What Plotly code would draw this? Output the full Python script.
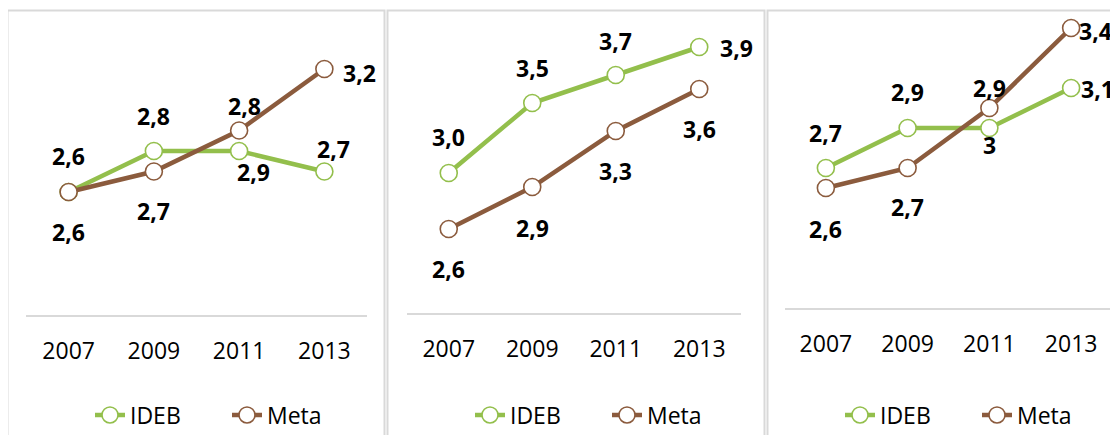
import plotly.graph_objects as go

# ---- data ----
years = ["2007", "2009", "2011", "2013"]

ideb_1 = [2.6, 2.8, 2.8, 2.7]
meta_1 = [2.6, 2.7, 2.9, 3.2]
ideb_1_labels = ["2,6", "2,8", "2,8", "2,7"]
meta_1_labels = ["2,6", "2,7", "2,9", "3,2"]

ideb_2 = [3.0, 3.5, 3.7, 3.9]
meta_2 = [2.6, 2.9, 3.3, 3.6]
ideb_2_labels = ["3,0", "3,5", "3,7", "3,9"]
meta_2_labels = ["2,6", "2,9", "3,3", "3,6"]

ideb_3 = [2.7, 2.9, 2.9, 3.1]
meta_3 = [2.6, 2.7, 3.0, 3.4]
ideb_3_labels = ["2,7", "2,9", "2,9", "3,1"]
meta_3_labels = ["2,6", "2,7", "3", "3,4"]

series_names = ["IDEB", "Meta"]

# ---- style ----
OFF = 8  # page body margin in the browser
W, H = 1118 - OFF, 435 - OFF
GREEN = "#93BF4C"
BROWN = "#8B5B3D"
FONT = "Open Sans"

# label pixel offsets (dx, dy down-positive) per panel / series / point
ideb_offsets = [
    [(0, -36), (0, -35), (5, -45), (9, -23)],
    [(0, -36), (0, -35), (0, -34), (37, 1)],
    [(0, -35), (0, -36), (0, -40), (26, 1)],
]
meta_offsets = [
    [(0, 40), (0, 39), (14, 41), (35, 4)],
    [(0, 40), (0, 41), (0, 40), (0, 40)],
    [(0, 41), (0, 39), (0, 37), (24, 3)],
]

# plot areas in reference pixels: x0, x1, ytop, ybottom and y ranges
areas = [
    (26, 367, 28, 315, [2.0, 3.4]),
    (407, 741, 33, 313, [2.0, 4.0]),
    (785, 1112, 28, 308, [2.0, 3.4]),
]
frames = [(7.5, 384.5), (387.5, 764.5), (767.5, 1130)]
legend_x = [90, 470, 840]


def px(v):
    return (v - OFF) / W


def py(v):
    return 1 - (v - OFF) / H


panels = [
    (ideb_1, meta_1, ideb_1_labels, meta_1_labels),
    (ideb_2, meta_2, ideb_2_labels, meta_2_labels),
    (ideb_3, meta_3, ideb_3_labels, meta_3_labels),
]

fig = go.Figure()
annotations = []
shapes = []
layout = {}

for i, (ideb, meta, il, ml) in enumerate(panels):
    sfx = "" if i == 0 else str(i + 1)
    xa, ya = "x" + sfx, "y" + sfx
    leg = "legend" + sfx
    x0, x1, yt, yb, yr = areas[i]
    for name, vals, color in ((series_names[0], ideb, GREEN), (series_names[1], meta, BROWN)):
        fig.add_trace(go.Scatter(
            x=years, y=vals, name=name, mode="lines+markers",
            line=dict(color=color, width=4.5),
            marker=dict(symbol="circle", size=17, color="white",
                        line=dict(color=color, width=1.6)),
            xaxis=xa, yaxis=ya, legend=leg, cliponaxis=False,
            hoverinfo="skip",
        ))
    for vals, labels, offs in ((ideb, il, ideb_offsets[i]), (meta, ml, meta_offsets[i])):
        for k in range(len(years)):
            dx, dy = offs[k]
            annotations.append(dict(
                x=k, y=vals[k], xref=xa, yref=ya, text="<b>" + labels[k] + "</b>",
                showarrow=False, xshift=dx, yshift=-dy,
                font=dict(family=FONT, size=23, color="black"),
            ))
    layout["xaxis" + sfx] = dict(
        domain=[px(x0), px(x1)], type="category", range=[-0.5, 3.5],
        showline=True, linecolor="#D9D9D9", linewidth=1.5,
        showgrid=False, zeroline=False, ticks="",
        tickfont=dict(family=FONT, size=23, color="black"),
        ticklabelstandoff=15,
        anchor=ya, fixedrange=True,
    )
    layout["yaxis" + sfx] = dict(
        domain=[py(yb), py(yt)], range=yr, visible=False,
        showgrid=False, zeroline=False, anchor=xa, fixedrange=True,
    )
    layout[leg] = dict(
        orientation="h", x=px(legend_x[i]), y=py(415),
        xanchor="left", yanchor="middle",
        font=dict(family=FONT, size=23, color="black"),
        bgcolor="rgba(0,0,0,0)", entrywidth=92,
    )
    fx0, fx1 = frames[i]
    shapes.append(dict(
        type="rect", xref="paper", yref="paper",
        x0=px(fx0), x1=px(fx1), y0=-0.05, y1=py(10.5),
        line=dict(color="#D9D9D9", width=2), fillcolor="rgba(0,0,0,0)",
        layer="below",
    ))

fig.update_layout(
    width=W, height=H,
    margin=dict(l=0, r=0, t=0, b=0, autoexpand=False),
    paper_bgcolor="white", plot_bgcolor="white",
    showlegend=True,
    annotations=annotations, shapes=shapes,
    **layout,
)

fig.write_html("out.html")
